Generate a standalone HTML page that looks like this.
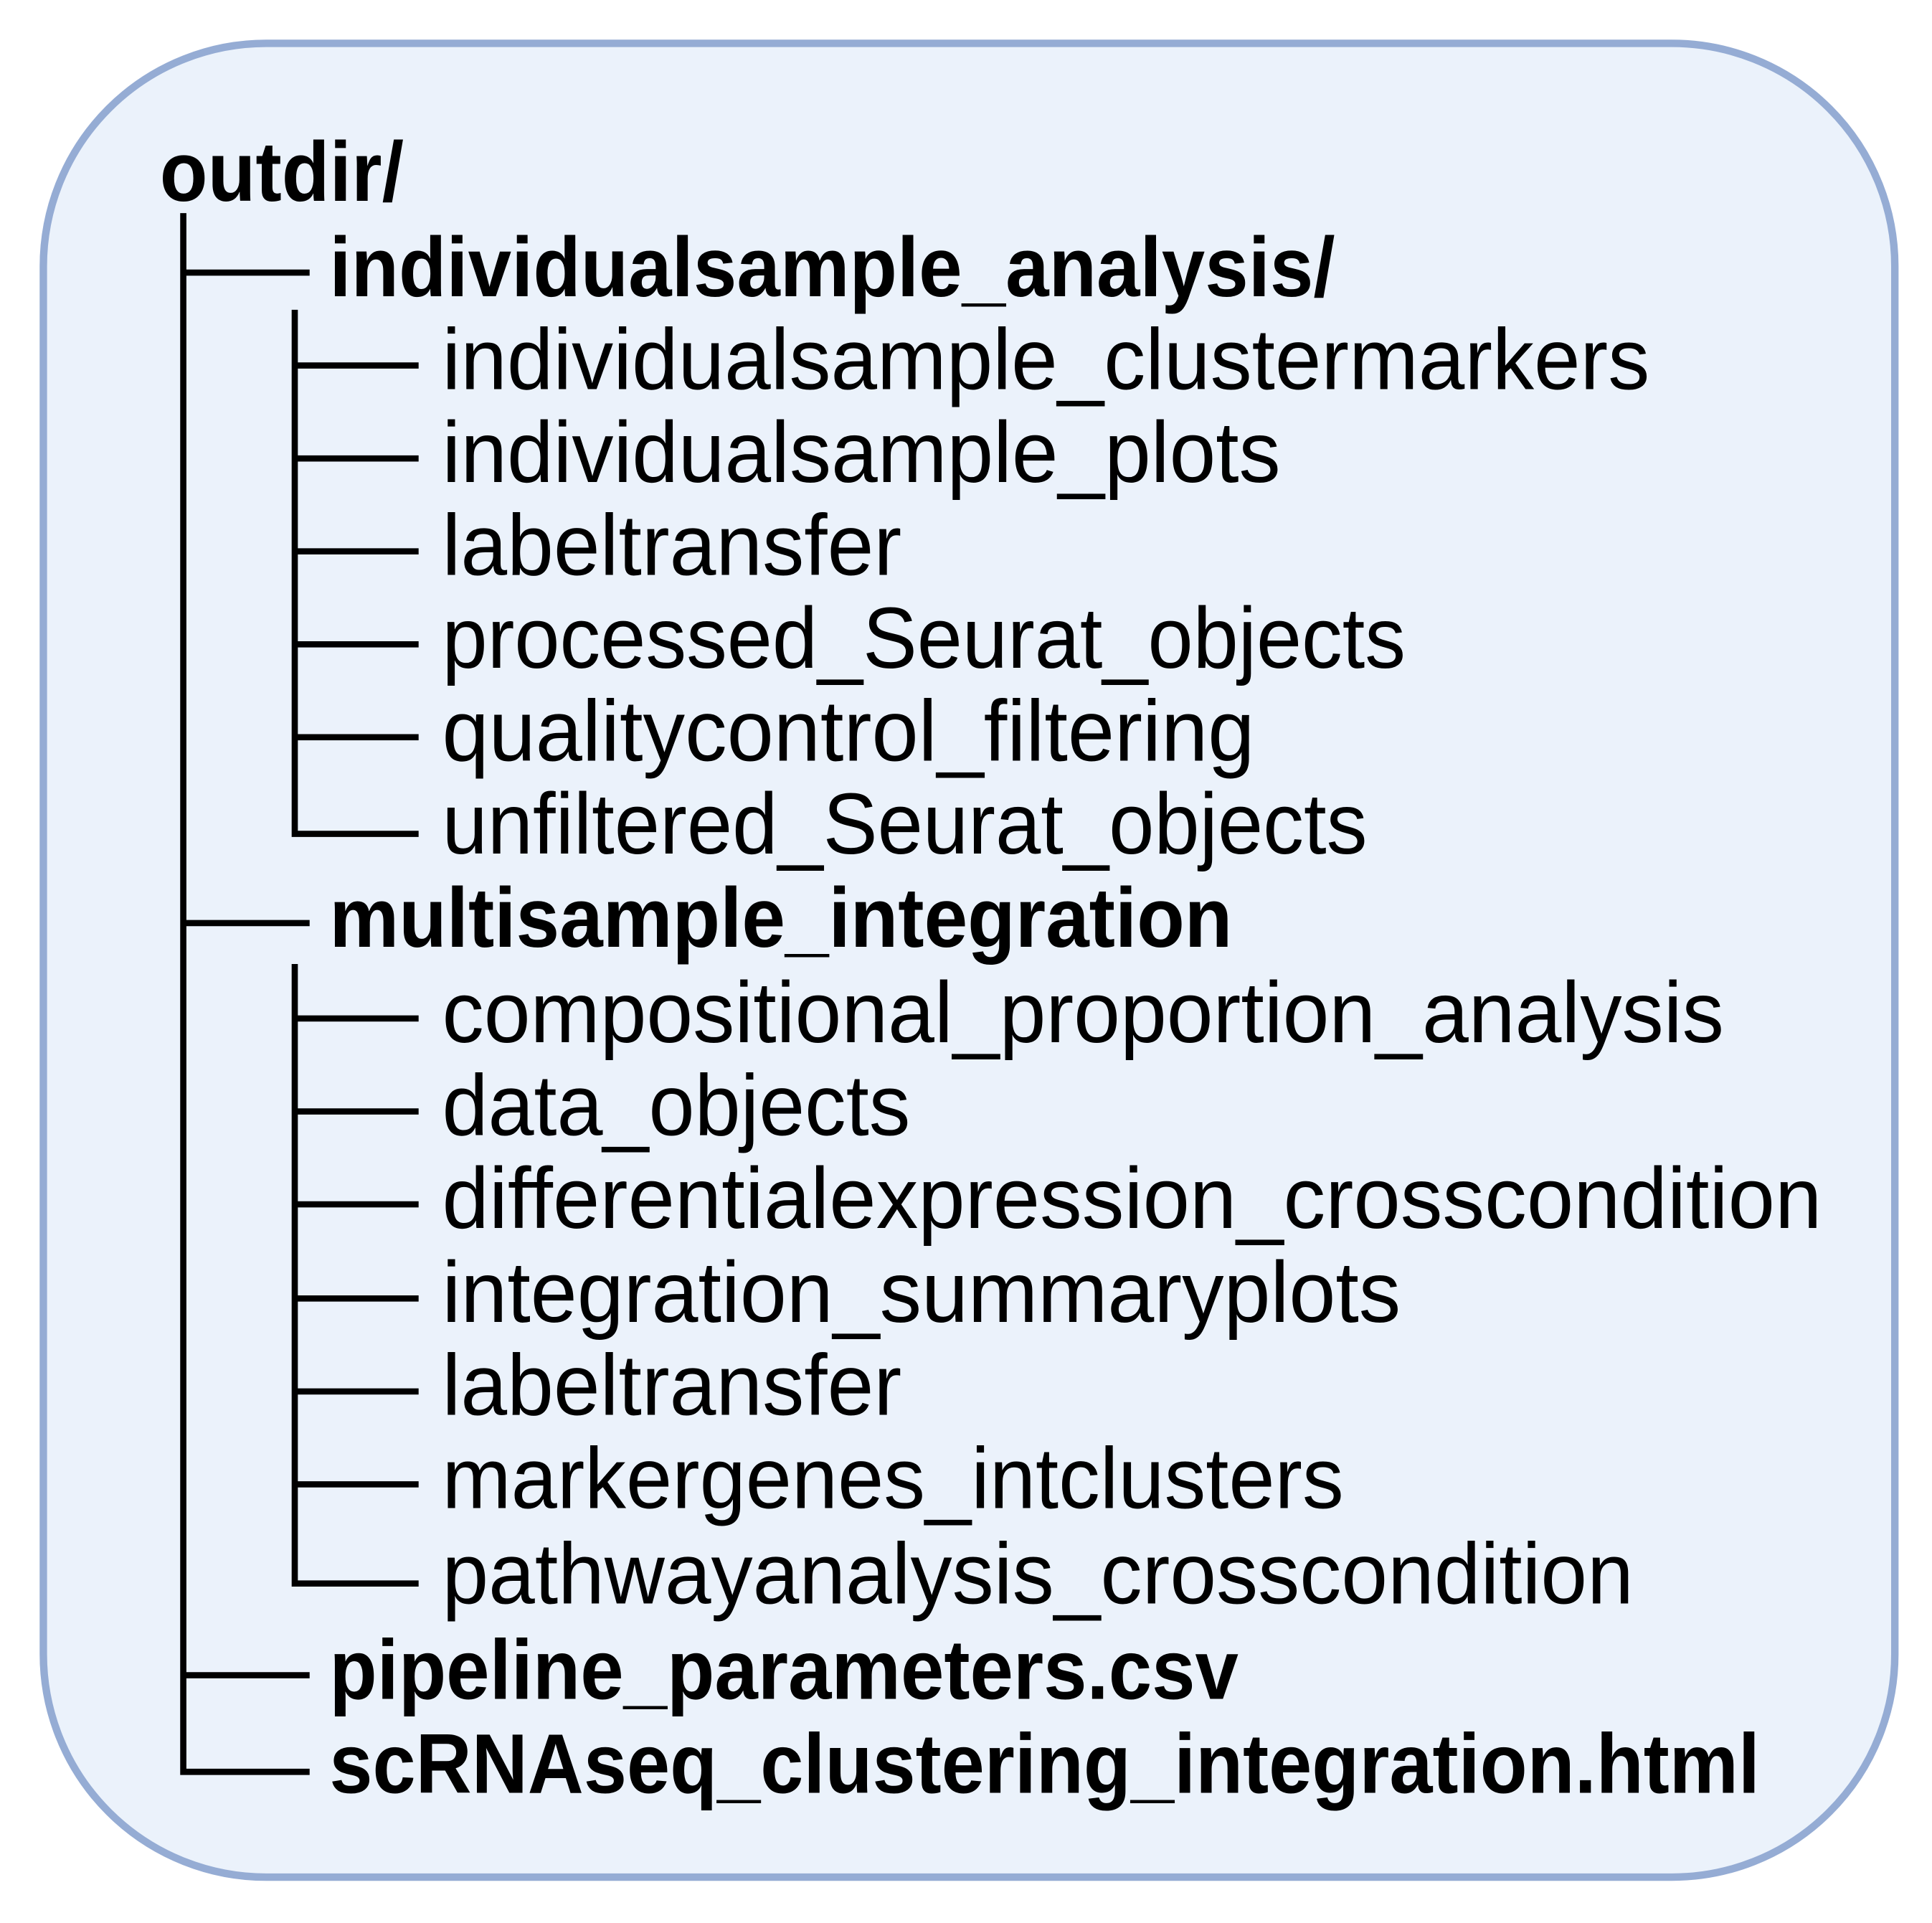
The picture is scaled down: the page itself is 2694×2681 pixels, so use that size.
<!DOCTYPE html>
<html><head><meta charset="utf-8"><style>
html,body{margin:0;padding:0;background:#fff;}
svg{display:block;}
text{font-family:"Liberation Sans",Arial,sans-serif;fill:#000;}
.b{font-weight:bold;font-size:68px;}
.r{font-size:70px;}
</style></head><body>
<svg width="2694" height="2681" viewBox="0 0 1560 1552" preserveAspectRatio="none" xmlns="http://www.w3.org/2000/svg">
<rect x="35" y="35" width="1495" height="1480" rx="180" ry="180" fill="#ebf2fb" stroke="#95acd4" stroke-width="6"/>
<g stroke="#000" stroke-width="5" fill="none">
<path d="M148 172 V1430 H250"/>
<path d="M148 220 H250 M148 745 H250 M148 1352 H250"/>
<path d="M238 250 V673 H338 M238 295 H338 M238 370 H338 M238 445 H338 M238 520 H338 M238 595 H338"/>
<path d="M238 778 V1278 H338 M238 822 H338 M238 897 H338 M238 972 H338 M238 1048 H338 M238 1123 H338 M238 1198 H338"/>
</g>
<text class="b" x="129" y="162" textLength="197" lengthAdjust="spacingAndGlyphs">outdir/</text>
<text class="b" x="266" y="239" textLength="812" lengthAdjust="spacingAndGlyphs">individualsample_analysis/</text>
<text class="r" x="357" y="314" textLength="975" lengthAdjust="spacingAndGlyphs">individualsample_clustermarkers</text>
<text class="r" x="357" y="389" textLength="677" lengthAdjust="spacingAndGlyphs">individualsample_plots</text>
<text class="r" x="357" y="464" textLength="371" lengthAdjust="spacingAndGlyphs">labeltransfer</text>
<text class="r" x="357" y="539" textLength="778" lengthAdjust="spacingAndGlyphs">processed_Seurat_objects</text>
<text class="r" x="357" y="614" textLength="656" lengthAdjust="spacingAndGlyphs">qualitycontrol_filtering</text>
<text class="r" x="357" y="689" textLength="747" lengthAdjust="spacingAndGlyphs">unfiltered_Seurat_objects</text>
<text class="b" x="266" y="764" textLength="729" lengthAdjust="spacingAndGlyphs">multisample_integration</text>
<text class="r" x="357" y="841" textLength="1035" lengthAdjust="spacingAndGlyphs">compositional_proportion_analysis</text>
<text class="r" x="357" y="916" textLength="378" lengthAdjust="spacingAndGlyphs">data_objects</text>
<text class="r" x="357" y="991" textLength="1114" lengthAdjust="spacingAndGlyphs">differentialexpression_crosscondition</text>
<text class="r" x="357" y="1067" textLength="774" lengthAdjust="spacingAndGlyphs">integration_summaryplots</text>
<text class="r" x="357" y="1142" textLength="371" lengthAdjust="spacingAndGlyphs">labeltransfer</text>
<text class="r" x="357" y="1217" textLength="728" lengthAdjust="spacingAndGlyphs">markergenes_intclusters</text>
<text class="r" x="357" y="1294" textLength="962" lengthAdjust="spacingAndGlyphs">pathwayanalysis_crosscondition</text>
<text class="b" x="266" y="1371" textLength="734" lengthAdjust="spacingAndGlyphs">pipeline_parameters.csv</text>
<text class="b" x="266" y="1447" textLength="1155" lengthAdjust="spacingAndGlyphs">scRNAseq_clustering_integration.html</text>
</svg>
</body></html>
